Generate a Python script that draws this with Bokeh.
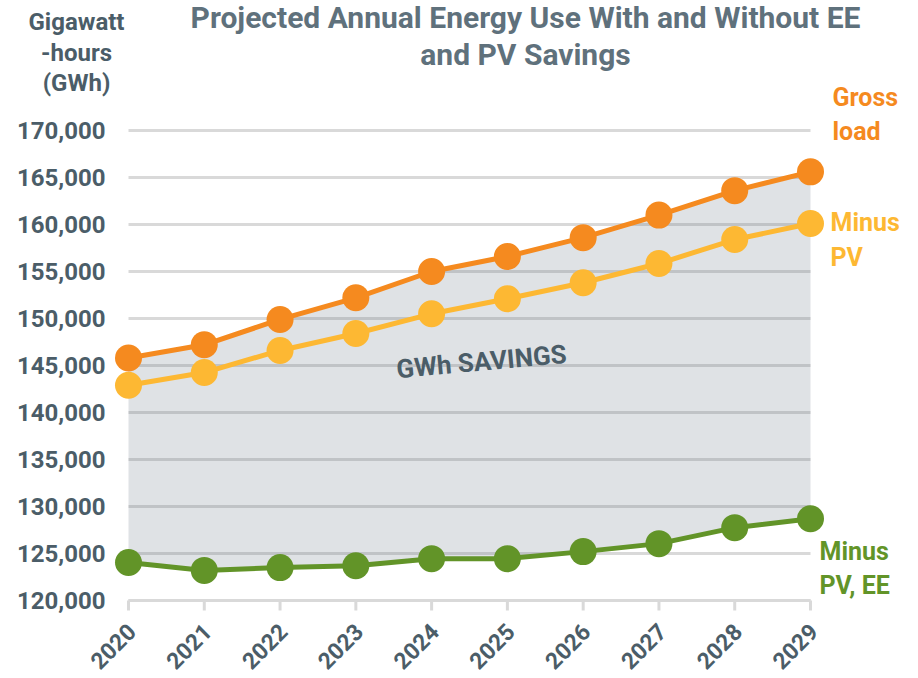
from bokeh.plotting import figure
from bokeh.models import Label, Range1d
from bokeh.core.properties import value
from bokeh.embed import file_html
from bokeh.resources import INLINE

# ---- data ----
years = [2020, 2021, 2022, 2023, 2024, 2025, 2026, 2027, 2028, 2029]
gross_load = [145800, 147200, 149900, 152200, 155000, 156600, 158600, 161000, 163600, 165600]
minus_pv = [142900, 144250, 146600, 148400, 150500, 152100, 153800, 155850, 158400, 160100]
minus_pv_ee = [124050, 123200, 123500, 123700, 124450, 124450, 125200, 126050, 127750, 128700]
yticks = [120000, 125000, 130000, 135000, 140000, 145000, 150000, 155000, 160000, 165000, 170000]
ytick_labels = [f"{v:,}" for v in yticks]
xtick_labels = [str(y) for y in years]

title_lines = ["Projected Annual Energy Use With and Without EE", "and PV Savings"]
ylabel_lines = ["Gigawatt", "-hours", "(GWh)"]
series_labels = [["Gross", "load"], ["Minus", "PV"], ["Minus", "PV, EE"]]
savings_text = "GWh SAVINGS"

# ---- styles ----
ORANGE = "#f58a1f"
YELLOW = "#fdb833"
GREEN = "#629428"
SLATE = "#4b5d68"
TITLE_C = "#5f717c"
GRID_C = "#d9d9d9"
FONT = "Roboto"

# ---- layout (page pixels; the figure sits at the page's top-left) ----
W, H = 918, 678
X0_PX, X1_PX = 128, 810      # first / last year
Y0_PX, Y1_PX = 600, 130      # first / last y tick
BASELINE_FIX = 9             # Label baselines render a bit low
ppx = (X1_PX - X0_PX) / (years[-1] - years[0])
ppy = (Y0_PX - Y1_PX) / (yticks[-1] - yticks[0])


def dx(px):
    return years[0] + (px - X0_PX) / ppx


def dy(py):
    return yticks[0] + (Y0_PX - py) / ppy


p = figure(width=W, height=H, output_backend="svg", toolbar_location=None,
           x_range=Range1d(dx(0), dx(W)), y_range=Range1d(dy(H), dy(0)),
           min_border=0)
p.outline_line_color = None
p.background_fill_color = "white"
p.border_fill_color = "white"
p.xgrid.visible = False
p.ygrid.visible = False
p.xaxis.visible = False
p.yaxis.visible = False

# gridlines (drawn under the translucent fill)
p.segment(x0=[years[0]] * len(yticks), x1=[years[-1]] * len(yticks),
          y0=yticks, y1=yticks, line_color=GRID_C, line_width=3)

# savings area between lowest and highest series
p.varea(x=years, y1=minus_pv_ee, y2=gross_load, fill_color="#4d5f6e", fill_alpha=0.18)

# x axis baseline and tick marks
p.segment(x0=[years[0]], x1=[years[-1]], y0=[yticks[0]], y1=[yticks[0]],
          line_color=GRID_C, line_width=3)
p.segment(x0=years, x1=years, y0=[yticks[0]] * len(years), y1=[dy(Y0_PX + 10)] * len(years),
          line_color=GRID_C, line_width=3)

# series
for vals, col in [(minus_pv_ee, GREEN), (minus_pv, YELLOW), (gross_load, ORANGE)]:
    p.line(years, vals, line_color=col, line_width=5)
    p.scatter(years, vals, size=27, fill_color=col, line_color=None)

# y tick labels
p.text(x=[dx(105)] * len(yticks), y=yticks, text=ytick_labels,
       text_align="right", text_baseline="middle",
       text_font=value(FONT), text_font_style="bold", text_font_size="24px",
       text_color=SLATE)

# x tick labels (rotated 45 degrees, ending at their tick)
p.text(x=years, y=[dy(627)] * len(years), text=xtick_labels, angle=0.785398,
       x_offset=3, text_align="right", text_baseline="middle",
       text_font=value(FONT), text_font_style="bold", text_font_size="23px",
       text_color=SLATE)


def add_label(text, px, py, color, size, align="left", angle=0.0, baseline="alphabetic", fix=True):
    if fix:
        py -= BASELINE_FIX
    p.add_layout(Label(x=dx(px), y=dy(py), text=text, text_align=align,
                       text_baseline=baseline, angle=angle,
                       text_font=FONT, text_font_style="bold",
                       text_font_size=f"{size}px", text_color=color))


# title
add_label(title_lines[0], 525, 26, TITLE_C, 30, "center")
add_label(title_lines[1], 525, 63, TITLE_C, 30, "center")

# y label
for line, py in zip(ylabel_lines, [30, 61, 91]):
    add_label(line, 76, py, SLATE, 24, "center")

# series labels
for (l1, l2), col, px, py1, py2 in [
        (series_labels[0], ORANGE, 832, 106, 140),
        (series_labels[1], YELLOW, 830, 231, 266),
        (series_labels[2], GREEN, 819, 560, 594)]:
    add_label(l1, px, py1, col, 25)
    add_label(l2, px, py2, col, 25)

# savings annotation
add_label(savings_text, 481, 361, SLATE, 26, "center", angle=0.09, baseline="middle", fix=False)

open("out.html", "w").write(file_html(p, INLINE))
